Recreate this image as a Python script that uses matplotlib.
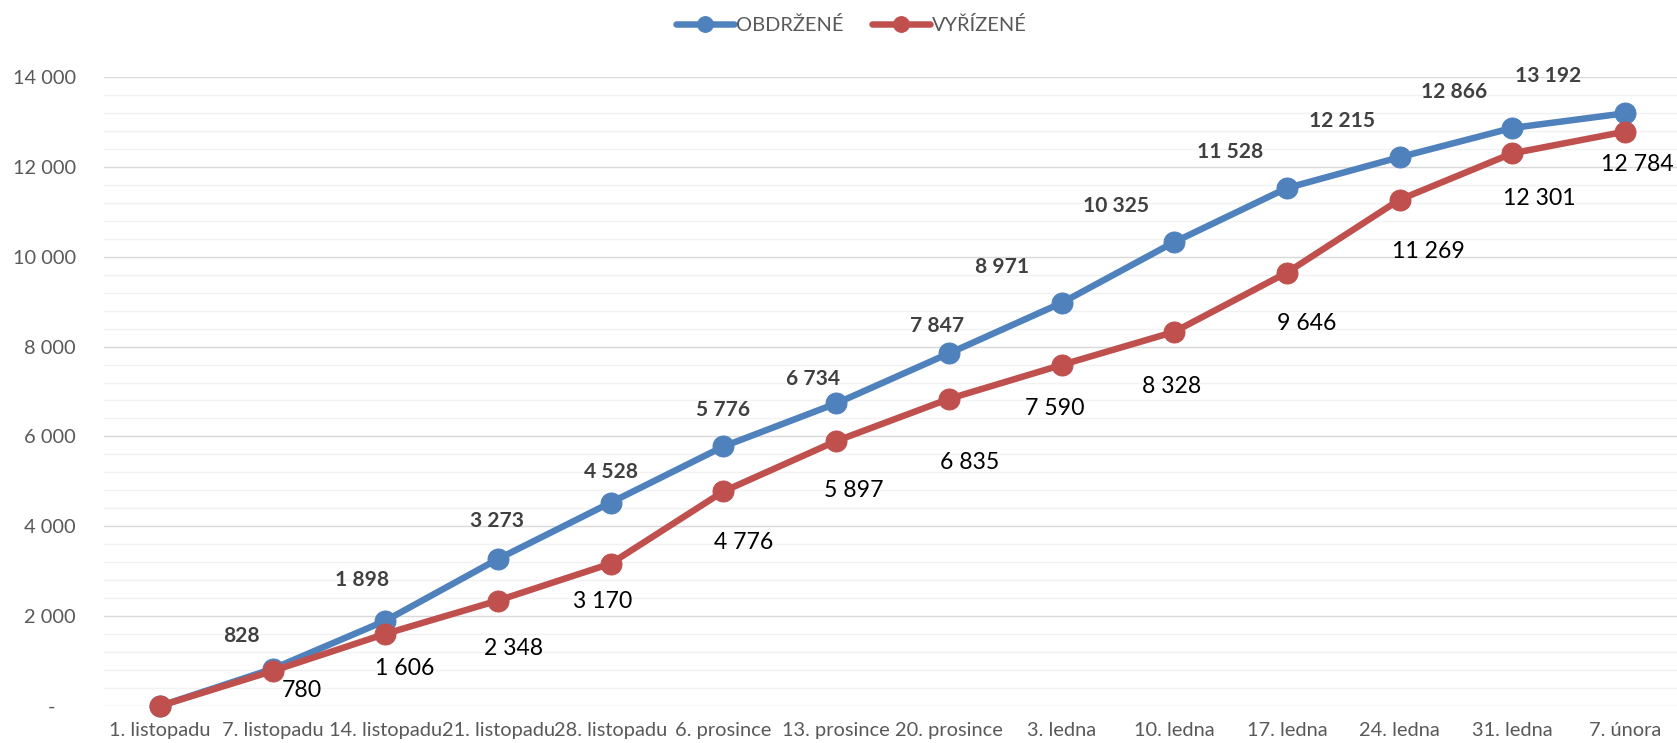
import matplotlib
matplotlib.use("Agg")
import matplotlib.pyplot as plt
from matplotlib.ticker import FuncFormatter, MultipleLocator

dates = ["1. listopadu", "7. listopadu", "14. listopadu", "21. listopadu", "28. listopadu",
         "6. prosince", "13. prosince", "20. prosince", "3. ledna", "10. ledna",
         "17. ledna", "24. ledna", "31. ledna", "7. února"]
obdrzene = [0, 828, 1898, 3273, 4528, 5776, 6734, 7847, 8971, 10325, 11528, 12215, 12866, 13192]
vyrizene = [0, 780, 1606, 2348, 3170, 4776, 5897, 6835, 7590, 8328, 9646, 11269, 12301, 12784]

# posun popisku od bodu (px, y dolu)
obd_off = [None, (-31, -33), (-23, -41), (-1, -38), (0, -31), (0, -36), (-23, -24), (-12, -27),
           (-59, -36), (-58, -36), (-57, -36), (-58, -36), (-58, -36), (-77, -37)]
vyr_off = [None, (29, 20), (19, 35), (15, 48), (-8, 38), (20, 51), (18, 49), (21, 64),
           (-7, 44), (-3, 55), (20, 51), (29, 52), (27, 45), (12, 33)]

BLUE = "#4F81BD"
RED = "#C0504D"

plt.rcParams['font.family'] = ['Lato', 'DejaVu Sans']


def fmt(v):
    return f"{int(v):,}".replace(",", " ")


W, H = 1677, 743
fig = plt.figure(figsize=(W / 72, H / 72), dpi=72)
ax = fig.add_axes([104 / W, 37 / H, 1573 / W, 629 / H])

x = list(range(len(dates)))
ax.plot(x, obdrzene, color=BLUE, lw=6.5, marker='o', ms=21, label='OBDRŽENÉ',
        solid_capstyle='round', zorder=3, clip_on=False)
ax.plot(x, vyrizene, color=RED, lw=6.5, marker='o', ms=21, label='VYŘÍZENÉ',
        solid_capstyle='round', zorder=4, clip_on=False)

for i, v in enumerate(obdrzene):
    if obd_off[i] is None:
        continue
    dx, dy = obd_off[i]
    ax.annotate(fmt(v), (i, v), xytext=(dx, -dy), textcoords='offset points',
                ha='center', va='center', fontsize=21, fontweight='bold', color='#404040')
for i, v in enumerate(vyrizene):
    if vyr_off[i] is None:
        continue
    dx, dy = vyr_off[i]
    ax.annotate(fmt(v), (i, v), xytext=(dx, -dy), textcoords='offset points',
                ha='center', va='center', fontsize=23, color='black')

ax.set_xlim(-0.497, 13.462)
ax.set_ylim(0, 14000)
ax.set_xticks(x)
ax.set_xticklabels(dates)
ax.yaxis.set_major_locator(MultipleLocator(2000))
ax.yaxis.set_minor_locator(MultipleLocator(400))
ax.yaxis.set_major_formatter(FuncFormatter(lambda v, p: "-    " if v == 0 else fmt(v)))
ax.grid(axis='y', which='major', color='#D9D9D9', lw=1.4)
ax.grid(axis='y', which='minor', color='#F2F2F2', lw=1.4)
ax.set_axisbelow(True)
ax.tick_params(axis='both', which='both', length=0, labelsize=20, labelcolor='#595959')
ax.tick_params(axis='y', pad=28)
ax.tick_params(axis='x', pad=16)
for s in ax.spines.values():
    s.set_visible(False)

fig.legend(loc='center', bbox_to_anchor=(851.5 / W, 1 - 25 / H), ncol=2, frameon=False,
           fontsize=20, labelcolor='#595959', handlelength=2.9, handletextpad=0.1,
           columnspacing=1.4, markerscale=0.75)

fig.savefig('out.png', dpi=72)
